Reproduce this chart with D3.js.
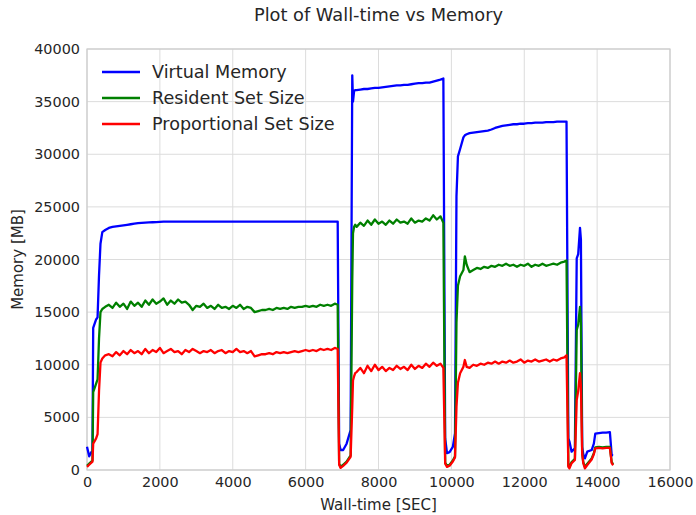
<!DOCTYPE html>
<html>
<head>
<meta charset="utf-8">
<script src="https://cdn.jsdelivr.net/npm/d3@7"></script>
<style>
  body { margin: 0; background: #fff; }
  text { font-family: "DejaVu Sans", sans-serif; fill: #262626; }
</style>
</head>
<body>
<div id="chart"></div>
<script>
// sample times (seconds)
var wallTime = [
    0, 60, 120, 150, 170, 250, 290, 330, 370, 420, 500,
    600, 700, 800, 900, 1000, 1100, 1200, 1300, 1400, 1500,
    1600, 1700, 1800, 1900, 2000, 2100, 2200, 2300, 2400, 2500,
    2600, 2700, 2800, 2900, 3000, 3100, 3200, 3300, 3400, 3500,
    3600, 3700, 3800, 3900, 4000, 4100, 4200, 4300, 4400, 4500,
    4600, 4700, 4800, 4900, 5000, 5100, 5200, 5300, 5400, 5500,
    5600, 5700, 5800, 5900, 6000, 6100, 6200, 6300, 6400, 6500,
    6600, 6700, 6800,
    6880, 6920, 6960, 7030, 7125, 7235, 7280, 7300, 7330, 7360,
    7400, 7500, 7600, 7700, 7800, 7900, 8000, 8100, 8200, 8300,
    8400, 8500, 8600, 8700, 8800, 8900, 9000, 9100, 9200, 9300,
    9400, 9500, 9600, 9700,
    9780, 9830, 9880, 9950, 10040, 10100, 10140, 10180, 10240, 10330, 10370, 10420,
    10500, 10600, 10700, 10800, 10900, 11000, 11100, 11200, 11300, 11400,
    11500, 11600, 11700, 11800, 11900, 12000, 12100, 12200, 12300, 12400,
    12500, 12600, 12700, 12800, 12900, 13000, 13100,
    13160, 13210, 13240, 13300, 13390, 13440, 13480, 13530, 13555, 13590, 13620,
    13665, 13730, 13850, 13910, 13950, 14050, 14150, 14250, 14350, 14400, 14440
];

var virtualMem = [
    2200, 1300, 1700, 1800, 13500, 14300, 14500, 18500, 21500, 22600, 22800,
    23000, 23100, 23150, 23200, 23250, 23300, 23350, 23400, 23450, 23480,
    23500, 23520, 23540, 23560, 23580, 23600, 23600, 23600, 23600, 23600,
    23600, 23600, 23600, 23600, 23600, 23600, 23600, 23600, 23600, 23600,
    23600, 23600, 23600, 23600, 23600, 23600, 23600, 23600, 23600, 23600,
    23600, 23600, 23600, 23600, 23600, 23600, 23600, 23600, 23600, 23600,
    23600, 23600, 23600, 23600, 23600, 23600, 23600, 23600, 23600, 23600,
    23600, 23600, 23600,
    23600, 2500, 1900, 1900, 2500, 3800, 37500, 35000, 36000, 36100,
    36100, 36150, 36200, 36200, 36250, 36300, 36300, 36350, 36400, 36450,
    36500, 36550, 36550, 36600, 36600, 36650, 36700, 36750, 36750, 36800,
    36800, 36900, 37000, 37100,
    37200, 3000, 1600, 1700, 2200, 3500, 26000, 29800, 30500, 31600, 31800, 31900,
    32000, 32050, 32100, 32150, 32200, 32250, 32350, 32500, 32600, 32700,
    32750, 32800, 32850, 32850, 32900, 32900, 32950, 32950, 33000, 33000,
    33000, 33050, 33050, 33050, 33100, 33100, 33100,
    33100, 3000, 2700, 1740, 2060, 20100, 20500, 23000, 21900, 2200, 1500,
    1100, 1740, 1900, 2500, 3450, 3500, 3550, 3550, 3600, 1420, 1400
];

var residentSet = [
    400, 600, 800, 900, 7400, 8200, 8600, 12500, 15000, 15300, 15500,
    15700, 15400, 15900, 15500, 15800, 15300, 16000, 15600, 15900, 15500,
    16100, 15700, 16200, 15800, 16000, 16300, 15700, 16100, 15800, 16200,
    15900, 16000, 15700, 15200, 15600, 15500, 15800, 15400, 15600, 15300,
    15700, 15400, 15500, 15300, 15600, 15400, 15700, 15300, 15500, 15400,
    15000, 15100, 15200, 15200, 15300, 15200, 15400, 15300, 15400, 15300,
    15500, 15400, 15500, 15500, 15600, 15500, 15600, 15500, 15700, 15600,
    15700, 15600, 15800,
    15700, 600, 300, 500, 800, 1400, 18000, 22500, 23100, 23300,
    23100, 23500, 23200, 23700, 23300, 23800, 23400, 23600, 23300, 23700,
    23400, 23800, 23500, 23600, 23400, 23900, 23500, 23700, 23600, 23900,
    23700, 24200, 23800, 24100,
    23500, 700, 400, 500, 900, 1300, 14000, 17500, 18400, 19000, 20300, 19500,
    18800, 19000, 19200, 19100, 19300, 19200, 19400, 19300, 19500, 19400,
    19600, 19400, 19500, 19300, 19500, 19400, 19600, 19300, 19500, 19400,
    19600, 19400, 19500, 19600, 19500, 19700, 19800,
    19900, 400, 300, 750, 1050, 13300, 13800, 15500, 14000, 1600, 750,
    300, 600, 1100, 1600, 2150, 2200, 2150, 2200, 2200, 750, 550
];

var proportionalSet = [
    300, 500, 700, 800, 2500, 3000, 3400, 7500, 10200, 10600, 10900,
    11000, 10800, 11200, 10900, 11300, 11000, 11400, 11100, 11300, 11000,
    11500, 11100, 11400, 11200, 11600, 11100, 11300, 11500, 11200, 11300,
    11000, 11400, 11200, 11500, 11300, 11100, 11300, 11200, 11400, 11100,
    11300, 11400, 11100, 11300, 11200, 11500, 11200, 11300, 11100, 11300,
    10800, 10900, 11000, 11000, 11100, 11000, 11200, 11100, 11200, 11100,
    11200, 11300, 11200, 11300, 11400, 11300, 11400, 11300, 11500, 11400,
    11500, 11400, 11600,
    11500, 500, 200, 400, 700, 1260, 6000, 8500, 8900, 9200,
    9300, 9700, 9200, 9900, 9400, 10000, 9500, 9800, 9400, 9700,
    9500, 9900, 9600, 9800, 9500, 10000, 9600, 9900, 9700, 10100,
    9800, 10200, 9900, 10100,
    9700, 600, 300, 400, 800, 1200, 6000, 8300, 9200, 9800, 10450, 9800,
    9700, 10000, 9900, 10100, 10000, 10200, 10100, 10300, 10100, 10300,
    10200, 10400, 10200, 10300, 10500, 10200, 10400, 10300, 10500, 10300,
    10400, 10500, 10300, 10500, 10400, 10600, 10700,
    10900, 300, 150, 650, 950, 6650, 7500, 9200, 8000, 1500, 650,
    150, 475, 1000, 1500, 2060, 2100, 2050, 2100, 2100, 650, 450
];

var seriesNames = ["Virtual Memory", "Resident Set Size", "Proportional Set Size"];
var seriesColors = ["#0000ff", "#008000", "#ff0000"];
var xTicks = [0, 2000, 4000, 6000, 8000, 10000, 12000, 14000, 16000];
var yTicks = [0, 5000, 10000, 15000, 20000, 25000, 30000, 35000, 40000];

var svgWidth = 696;
var svgHeight = 515;

var margin = {
    top: 49,
    right: 26,
    bottom: 45,
    left: 87
};

var width = svgWidth - margin.left - margin.right;
var height = svgHeight - margin.top - margin.bottom;

var svg = d3.select("#chart")
    .append("svg")
    .attr("width", svgWidth)
    .attr("height", svgHeight);

var chartGroup = svg.append("g")
    .attr("transform", `translate(${margin.left}, ${margin.top})`);

var xLinearScale = d3.scaleLinear()
    .domain([0, 16000])
    .range([0, width]);

var yLinearScale = d3.scaleLinear()
    .domain([0, 40000])
    .range([height, 0]);

// grid lines
chartGroup.append("g")
    .selectAll("line")
    .data(xTicks)
    .enter()
    .append("line")
    .attr("x1", d => xLinearScale(d))
    .attr("x2", d => xLinearScale(d))
    .attr("y1", 0)
    .attr("y2", height)
    .attr("stroke", "#dcdcdc")
    .attr("stroke-width", 1);

chartGroup.append("g")
    .selectAll("line")
    .data(yTicks)
    .enter()
    .append("line")
    .attr("x1", 0)
    .attr("x2", width)
    .attr("y1", d => yLinearScale(d))
    .attr("y2", d => yLinearScale(d))
    .attr("stroke", "#dcdcdc")
    .attr("stroke-width", 1);

// axes (labels only, no tick marks)
var bottomAxis = d3.axisBottom(xLinearScale).tickValues(xTicks).tickSize(0).tickPadding(7)
    .tickFormat(d3.format("d"));
var leftAxis = d3.axisLeft(yLinearScale).tickValues(yTicks).tickSize(0).tickPadding(7)
    .tickFormat(d3.format("d"));

var xAxis = chartGroup.append("g")
    .attr("transform", `translate(0, ${height})`)
    .call(bottomAxis);

var yAxis = chartGroup.append("g")
    .call(leftAxis);

[xAxis, yAxis].forEach(function(ax) {
    ax.select(".domain").remove();
    ax.selectAll("text")
        .style("font-family", "DejaVu Sans, sans-serif")
        .style("font-size", "14.4px")
        .attr("fill", "#262626");
});

// frame
chartGroup.append("rect")
    .attr("x", 0)
    .attr("y", 0)
    .attr("width", width)
    .attr("height", height)
    .attr("fill", "none")
    .attr("stroke", "#cccccc")
    .attr("stroke-width", 1.2);

// lines
var allSeries = [virtualMem, residentSet, proportionalSet];

var line = d3.line()
    .x(d => xLinearScale(d[0]))
    .y(d => yLinearScale(d[1]));

allSeries.forEach(function(values, i) {
    var pts = wallTime.map((t, j) => [t, values[j]]);
    chartGroup.append("path")
        .datum(pts)
        .attr("fill", "none")
        .attr("stroke", seriesColors[i])
        .attr("stroke-width", 2.3)
        .attr("stroke-linejoin", "round")
        .attr("d", line);
});

// legend
var legend = chartGroup.append("g")
    .attr("transform", "translate(15, 23)");

seriesNames.forEach(function(name, i) {
    var row = legend.append("g")
        .attr("transform", `translate(0, ${i * 26})`);
    row.append("line")
        .attr("x1", 0)
        .attr("x2", 38)
        .attr("y1", 0)
        .attr("y2", 0)
        .attr("stroke", seriesColors[i])
        .attr("stroke-width", 2.3);
    row.append("text")
        .attr("x", 50)
        .attr("y", 0)
        .attr("dy", "0.35em")
        .style("font-size", "17.6px")
        .text(name);
});

// title and axis labels
svg.append("text")
    .attr("x", margin.left + width / 2)
    .attr("y", 21)
    .attr("text-anchor", "middle")
    .style("font-size", "17.8px")
    .text("Plot of Wall-time vs Memory");

svg.append("text")
    .attr("x", margin.left + width / 2)
    .attr("y", 510)
    .attr("text-anchor", "middle")
    .style("font-size", "15px")
    .text("Wall-time [SEC]");

svg.append("text")
    .attr("transform", "rotate(-90)")
    .attr("x", -(margin.top + height / 2))
    .attr("y", 23)
    .attr("text-anchor", "middle")
    .style("font-size", "15px")
    .text("Memory [MB]");
</script>
</body>
</html>
